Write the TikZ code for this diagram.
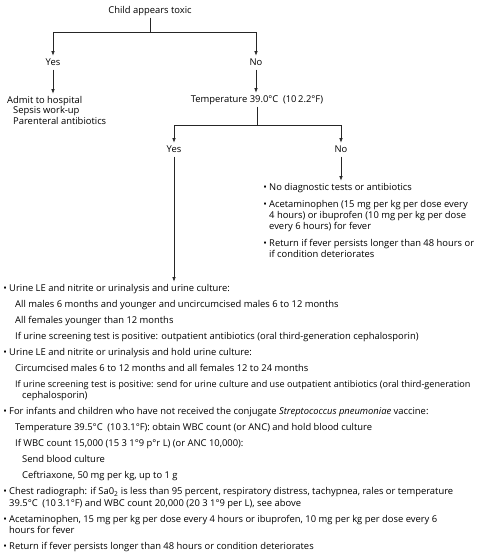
\documentclass[tikz,border=0pt]{standalone}
\usepackage{fontspec}
\setmainfont{Open Sans}
\usetikzlibrary{arrows.meta}
\newcommand{\bul}{\llap{\textbullet\hspace{2.4pt}}}
\begin{document}
\begin{tikzpicture}[x=1pt,y=-1pt,
  every node/.style={font=\fontsize{9.4}{11}\selectfont, text=black},
  lab/.style={anchor=base, inner xsep=1pt, inner ysep=2.5pt, text height=6.6pt, text depth=1.9pt},
  txt/.style={anchor=base west, inner xsep=0pt, inner ysep=2.5pt, text height=6.6pt, text depth=1.9pt},
  conn/.style={draw=black!85, line width=0.6pt},
  arr/.style={conn, -{Latex[length=4.5pt,width=3.4pt]}}]
\fill[white] (0,0) rectangle (486,555);
\path[use as bounding box] (0,0) rectangle (486,555);

% top of the tree
\node[lab] (toxic) at (150,13) {Child appears toxic};
\coordinate (j1) at (150,32);
\node[lab] (yes1) at (53,65) {Yes};
\node[lab] (no1) at (256,65) {No};
\draw[conn] (toxic.south) -- (j1);
\draw[arr] (j1) -| (yes1.north);
\draw[arr] (j1) -| (no1.north);

% yes branch
\node[txt] (admit) at (7,103) {Admit to hospital};
\node[txt] (sepsis) at (13,113.5) {Sepsis work-up};
\node[txt] (parent) at (13,124) {Parenteral antibiotics};
\draw[arr] (yes1.south) -- (yes1.south |- admit.north);

% no branch
\node[lab] (temp) at (257,102) {Temperature 39.0°C\enspace(10\,2.2°F)};
\draw[arr] (no1.south) -- (no1.south |- temp.north);
\coordinate (j2) at (257,125);
\node[lab] (yes2) at (174,152) {Yes};
\node[lab] (no2) at (341,152) {No};
\draw[conn] (temp.south) -- (j2);
\draw[arr] (j2) -| (yes2.north);
\draw[arr] (j2) -| (no2.north);

% right block
\node[txt] (r1) at (269,190) {\bul No diagnostic tests or antibiotics};
\node[txt] (r2) at (269,207) {\bul Acetaminophen (15 mg per kg per dose every};
\node[txt] (r3) at (269,218) {4 hours) or ibuprofen (10 mg per kg per dose};
\node[txt] (r4) at (269,229) {every 6 hours) for fever};
\node[txt] (r5) at (269,246) {\bul Return if fever persists longer than 48 hours or};
\node[txt] (r6) at (269,257) {if condition deteriorates};
\draw[arr] (no2.south) -- (no2.south |- r1.north);

% lower block
\node[txt] (l1) at (9,291) {\bul Urine LE and nitrite or urinalysis and urine culture:};
\node[txt] (l2) at (15,307) {All males 6 months and younger and uncircumcised males 6 to 12 months};
\node[txt] (l3) at (15,323) {All females younger than 12 months};
\node[txt] (l4) at (15,339) {If urine screening test is positive: outpatient antibiotics (oral third-generation cephalosporin)};
\node[txt] (l5) at (9,355) {\bul Urine LE and nitrite or urinalysis and hold urine culture:};
\node[txt] (l6) at (15,371) {Circumcised males 6 to 12 months and all females 12 to 24 months};
\node[txt, font=\fontsize{9.1}{11}\selectfont] (l7) at (15,387) {If urine screening test is positive: send for urine culture and use outpatient antibiotics (oral third-generation};
\node[txt] (l8) at (22,398.5) {cephalosporin)};
\node[txt] (l9) at (9,414.5) {\bul For infants and children who have not received the conjugate \textit{Streptococcus pneumoniae} vaccine:};
\node[txt] (l10) at (15,430.5) {Temperature 39.5°C\enspace(10\,3.1°F): obtain WBC count (or ANC) and hold blood culture};
\node[txt] (l11) at (15,446.5) {If WBC count 15,000 (15 3 1°9 p°r L) (or ANC 10,000):};
\node[txt] (l12) at (22,462.5) {Send blood culture};
\node[txt] (l13) at (22,478.5) {Ceftriaxone, 50 mg per kg, up to 1 g};
\node[txt] (l14) at (9,494.5) {\bul Chest radiograph: if Sa0\textsubscript{2} is less than 95 percent, respiratory distress, tachypnea, rales or temperature};
\node[txt] (l15) at (9,506) {39.5°C\enspace(10\,3.1°F) and WBC count 20,000 (20 3 1°9 per L), see above};
\node[txt] (l16) at (9,522) {\bul Acetaminophen, 15 mg per kg per dose every 4 hours or ibuprofen, 10 mg per kg per dose every 6};
\node[txt] (l17) at (9,533.5) {hours for fever};
\node[txt] (l18) at (9,549.5) {\bul Return if fever persists longer than 48 hours or condition deteriorates};
\draw[arr] (yes2.south) -- (yes2.south |- l1.north);
\end{tikzpicture}
\end{document}
